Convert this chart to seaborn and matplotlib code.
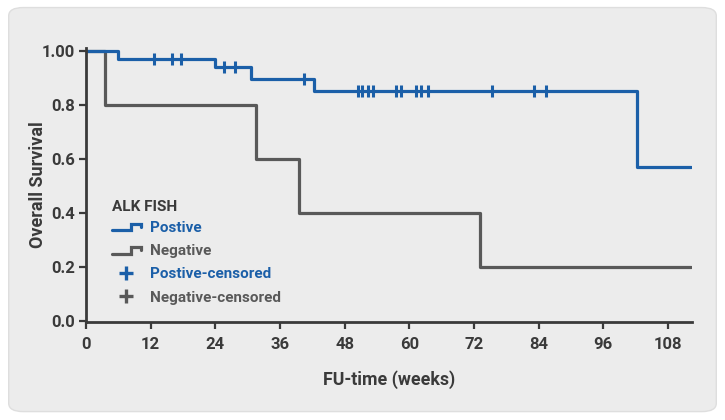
import matplotlib
matplotlib.use("Agg")
import matplotlib.pyplot as plt
from matplotlib.lines import Line2D
from matplotlib.legend_handler import HandlerBase
from matplotlib.patches import FancyBboxPatch
import numpy as np
import pandas as pd
import seaborn as sns

BLUE = '#1b5fa8'
GRAY = '#595959'
DARK = '#3a3a3a'

pos_times = [0, 6, 24, 30.6, 42.4, 102.2, 112.3]
pos_surv = [1.0, 0.968, 0.938, 0.896, 0.852, 0.571, 0.571]
neg_times = [0, 3.5, 31.5, 39.5, 73.1, 112.3]
neg_surv = [1.0, 0.80, 0.60, 0.40, 0.20, 0.20]
pos_censored = [12.6, 16.0, 17.6, 25.7, 27.7, 40.5, 50.4, 51.3, 52.3, 53.3,
                57.5, 58.4, 61.2, 62.2, 63.4, 75.3, 83.2, 85.3]

x_ticks = [0, 12, 24, 36, 48, 60, 72, 84, 96, 108]
y_ticks = [0.0, 0.2, 0.4, 0.6, 0.8, 1.0]
y_tick_labels = ['0.0', '0.2', '0.4', '0.6', '0.8', '1.00']


class StepHandler(HandlerBase):
    def create_artists(self, legend, orig_handle, xdescent, ydescent,
                       width, height, fontsize, trans):
        x0, x1 = -xdescent, -xdescent + width
        lo, hi = -ydescent + height * 0.15, -ydescent + height * 0.75
        xs = [x0, x0 + width * 0.65, x0 + width * 0.65, x1, x1]
        ys = [lo, lo, hi, hi, hi - height * 0.3]
        line = Line2D(xs, ys, color=orig_handle.get_color(),
                      lw=orig_handle.get_linewidth(), solid_joinstyle='miter')
        line.set_transform(trans)
        return [line]


def surv_at(times, surv, t):
    idx = np.searchsorted(times, t, side='right') - 1
    return np.asarray(surv)[idx]


def show_chart():
    sns.set_style("white")
    plt.rcParams['font.family'] = ['Roboto', 'DejaVu Sans']
    plt.rcParams['font.weight'] = 'bold'

    fig = plt.figure(figsize=(7.25, 4.2), dpi=100, facecolor='white')
    fig.patches.append(FancyBboxPatch((0.012, 0.02), 0.976, 0.962,
                                      boxstyle="round,pad=0,rounding_size=0.02",
                                      transform=fig.transFigure, facecolor='#ececec',
                                      edgecolor='#dedede', lw=1, zorder=-10))
    ax = fig.add_axes([0.1186, 0.2333, 0.836, 0.6524])
    ax.set_facecolor('none')

    neg = pd.DataFrame({'t': neg_times, 's': neg_surv})
    pos = pd.DataFrame({'t': pos_times, 's': pos_surv})
    sns.lineplot(data=neg, x='t', y='s', ax=ax, color=GRAY, lw=2.3,
                 drawstyle='steps-post', estimator=None, sort=False)
    sns.lineplot(data=pos, x='t', y='s', ax=ax, color=BLUE, lw=2.3,
                 drawstyle='steps-post', estimator=None, sort=False)

    cens = pd.DataFrame({'t': pos_censored,
                         's': surv_at(pos_times, pos_surv, pos_censored)})
    ax.plot(cens['t'], cens['s'], ls='none', marker='|', ms=9, mew=2.2,
            color=BLUE, zorder=5)

    ax.set_xlim(0, 112.5)
    ax.set_ylim(-0.005, 1.01)
    ax.set_xticks(x_ticks)
    ax.set_yticks(y_ticks)
    ax.set_yticklabels(y_tick_labels)
    ax.tick_params(axis='both', direction='out', length=5, width=1.6,
                   color=DARK, labelcolor=DARK, labelsize=12, pad=3,
                   bottom=True, left=True)
    ax.tick_params(axis='x', pad=6)
    for lab in ax.get_xticklabels() + ax.get_yticklabels():
        lab.set_fontweight('bold')
    for side in ['top', 'right']:
        ax.spines[side].set_visible(False)
    for side in ['left', 'bottom']:
        ax.spines[side].set_color(DARK)
        ax.spines[side].set_linewidth(2)

    ax.set_xlabel('FU-time (weeks)', fontsize=12.8, fontweight='bold', color=DARK, labelpad=13)
    ax.set_ylabel('Overall Survival', fontsize=13, fontweight='bold', color=DARK, labelpad=-4)

    handles = [
        Line2D([], [], color=BLUE, lw=2.3),
        Line2D([], [], color=GRAY, lw=2.3),
        Line2D([], [], color=BLUE, marker='+', ls='none', ms=10, mew=2.4),
        Line2D([], [], color=GRAY, marker='+', ls='none', ms=10, mew=2.4),
    ]
    labels = ['Postive', 'Negative', 'Postive-censored', 'Negative-censored']
    leg = ax.legend(handles, labels, title='ALK FISH', loc='upper left',
                    bbox_to_anchor=(0.02, 0.495), frameon=False,
                    handlelength=1.9, handletextpad=0.6, labelspacing=0.6,
                    fontsize=11, title_fontsize=11,
                    handler_map={handles[0]: StepHandler(), handles[1]: StepHandler()})
    leg._legend_box.align = 'left'
    leg._legend_box.sep = 5
    leg.get_title().set_fontweight('bold')
    leg.get_title().set_color(DARK)
    for txt, col in zip(leg.get_texts(), [BLUE, GRAY, BLUE, GRAY]):
        txt.set_color(col)
        txt.set_fontweight('bold')

    fig.savefig('out.png', dpi=100, facecolor='white')


if __name__ == '__main__':
    show_chart()
